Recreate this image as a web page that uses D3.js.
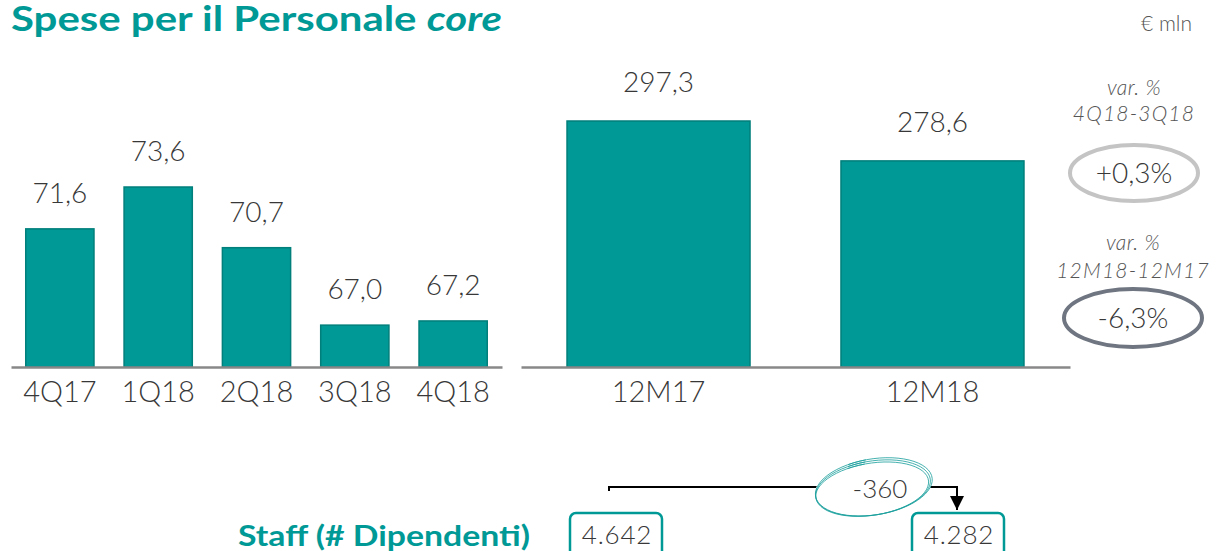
<!DOCTYPE html>
<html lang="it">
<head>
  <meta charset="UTF-8">
  <title>Spese per il Personale core</title>
  <script src="https://d3js.org/d3.v7.min.js"></script>
  <style>
    body { margin: 0; padding: 0; background: #fff; }
    svg text { font-family: Lato, "Open Sans", sans-serif; }
  </style>
</head>
<body>
  <svg id="chart" width="1220" height="551"></svg>
  <script>
    // quarterly data (€ mln)
    const quarters = ["4Q17", "1Q18", "2Q18", "3Q18", "4Q18"];
    const quarterValues = [71.6, 73.6, 70.7, 67.0, 67.2];
    // full year data (€ mln)
    const years = ["12M17", "12M18"];
    const yearValues = [297.3, 278.6];
    // variations
    const varTitles = [["var. %", "4Q18-3Q18"], ["var. %", "12M18-12M17"]];
    const varValues = ["+0,3%", "-6,3%"];
    // staff
    const staffPeriods = ["12M17", "12M18"];
    const staffValues = [4642, 4282];

    const teal = "#009996", tealDark = "#007f7b", textGray = "#383838";
    const fmt = v => v.toFixed(1).replace(".", ",");
    const fmtInt = v => d3.format(",")(v).replace(",", ".");

    const svg = d3.select("#chart");

    // title
    const title = svg.append("text")
      .attr("x", 11).attr("y", 31)
      .attr("fill", teal)
      .attr("font-family", "'Open Sans', sans-serif")
      .attr("font-size", 34).attr("font-weight", 700)
      .attr("textLength", 491).attr("lengthAdjust", "spacingAndGlyphs");
    title.append("tspan").text("Spese per il Personale ");
    title.append("tspan").attr("font-style", "italic").text("core");

    svg.append("text")
      .attr("x", 1192).attr("y", 31)
      .attr("text-anchor", "end")
      .attr("fill", "#555").attr("font-size", 21).attr("font-weight", 300)
      .text("€ mln");

    // left chart: quarters
    const baseY = 367;
    const xQ = d3.scaleBand().domain(quarters).range([11, 502]).paddingInner(0.306).paddingOuter(0.15);
    const yQ = d3.scaleLinear().domain([65, 73.6]).range([baseY, 187]);

    const gQ = svg.append("g");
    gQ.selectAll("rect").data(quarterValues).join("rect")
      .attr("x", (d, i) => xQ(quarters[i]))
      .attr("y", d => yQ(d))
      .attr("width", xQ.bandwidth())
      .attr("height", d => baseY - yQ(d))
      .attr("fill", teal).attr("stroke", tealDark).attr("stroke-width", 1.5);
    gQ.selectAll("text.val").data(quarterValues).join("text")
      .attr("class", "val")
      .attr("x", (d, i) => xQ(quarters[i]) + xQ.bandwidth() / 2)
      .attr("y", d => yQ(d) - 26)
      .attr("text-anchor", "middle")
      .attr("fill", textGray).attr("font-size", 28).attr("font-weight", 300)
      .text(fmt);

    const axQ = svg.append("g")
      .attr("transform", `translate(0,${baseY})`)
      .call(d3.axisBottom(xQ).tickSize(0).tickPadding(14));
    axQ.select(".domain").attr("stroke", "#888").attr("stroke-width", 2.5);
    axQ.selectAll(".tick text")
      .attr("font-size", 29).attr("font-weight", 300).attr("fill", textGray)
      .attr("font-family", "Lato, 'Open Sans', sans-serif");

    // right chart: full year
    const xY = d3.scaleBand().domain(years).range([521, 1070]).paddingInner(0.332).paddingOuter(0.168);
    const yY = d3.scaleLinear().domain([182, 297.3]).range([baseY, 121]);

    const gY = svg.append("g");
    gY.selectAll("rect").data(yearValues).join("rect")
      .attr("x", (d, i) => xY(years[i]))
      .attr("y", d => yY(d))
      .attr("width", xY.bandwidth())
      .attr("height", d => baseY - yY(d))
      .attr("fill", teal).attr("stroke", tealDark).attr("stroke-width", 1.5);
    gY.selectAll("text.val").data(yearValues).join("text")
      .attr("class", "val")
      .attr("x", (d, i) => xY(years[i]) + xY.bandwidth() / 2)
      .attr("y", d => yY(d) - 29)
      .attr("text-anchor", "middle")
      .attr("fill", textGray).attr("font-size", 28).attr("font-weight", 300)
      .text(fmt);

    const axY = svg.append("g")
      .attr("transform", `translate(0,${baseY})`)
      .call(d3.axisBottom(xY).tickSize(0).tickPadding(14));
    axY.select(".domain").attr("stroke", "#888").attr("stroke-width", 2.5);
    axY.selectAll(".tick text")
      .attr("font-size", 29).attr("font-weight", 300).attr("fill", textGray)
      .attr("font-family", "Lato, 'Open Sans', sans-serif");

    // variation badges
    const badges = [
      { cx: 1134, cy: 173, rx: 64, ry: 28, stroke: "#c4c4c4", titleY: [95, 121] },
      { cx: 1133, cy: 318, rx: 69, ry: 29, stroke: "#6f7681", titleY: [250, 278] }
    ];
    badges.forEach((b, i) => {
      const g = svg.append("g");
      varTitles[i].forEach((t, j) => {
        g.append("text")
          .attr("x", b.cx).attr("y", b.titleY[j])
          .attr("text-anchor", "middle")
          .attr("fill", "#555").attr("font-size", 21).attr("font-style", "italic").attr("font-weight", 300)
          .attr("letter-spacing", j ? 1.2 : 0.5)
          .text(t);
      });
      g.append("ellipse")
        .attr("cx", b.cx).attr("cy", b.cy).attr("rx", b.rx).attr("ry", b.ry)
        .attr("fill", "none").attr("stroke", b.stroke).attr("stroke-width", 4);
      g.append("text")
        .attr("x", b.cx).attr("y", b.cy + 10)
        .attr("text-anchor", "middle")
        .attr("fill", textGray).attr("font-size", 28).attr("font-weight", 300)
        .text(varValues[i]);
    });

    // staff row
    svg.append("text")
      .attr("x", 238).attr("y", 546)
      .attr("fill", teal)
      .attr("font-family", "'Open Sans', sans-serif")
      .attr("font-size", 28).attr("font-weight", 700)
      .attr("textLength", 292).attr("lengthAdjust", "spacingAndGlyphs")
      .text("Staff (# Dipendenti)");

    const xS = d3.scalePoint().domain(staffPeriods).range([616, 958]);
    const boxW = 92, boxTop = 513;
    const gS = svg.append("g");
    gS.selectAll("rect").data(staffValues).join("rect")
      .attr("x", (d, i) => xS(staffPeriods[i]) - boxW / 2)
      .attr("y", boxTop)
      .attr("width", boxW).attr("height", 50)
      .attr("rx", 6)
      .attr("fill", "#fff").attr("stroke", teal).attr("stroke-width", 2.5);
    gS.selectAll("text").data(staffValues).join("text")
      .attr("x", (d, i) => xS(staffPeriods[i]) + 1)
      .attr("y", 544)
      .attr("text-anchor", "middle")
      .attr("fill", textGray).attr("font-size", 26).attr("font-weight", 300)
      .attr("letter-spacing", 0.8)
      .text(fmtInt);

    // connector with arrow
    const x0 = xS(staffPeriods[0]) - 7, x1 = xS(staffPeriods[1]) - 1, lineY = 487;
    svg.append("defs").append("marker")
      .attr("id", "arrow").attr("viewBox", "0 0 10 10")
      .attr("refX", 10).attr("refY", 5)
      .attr("markerWidth", 7).attr("markerHeight", 7).attr("markerUnits", "strokeWidth")
      .attr("orient", "auto")
      .append("path").attr("d", "M0,0 L10,5 L0,10 Z").attr("fill", "#000");
    svg.append("path")
      .attr("d", `M${x0},${lineY + 4} V${lineY} H${x1} V${boxTop - 3}`)
      .attr("fill", "none").attr("stroke", "#000").attr("stroke-width", 2)
      .attr("marker-end", "url(#arrow)");

    // delta label with hand-drawn ring
    const delta = staffValues[1] - staffValues[0];
    const dg = svg.append("g").attr("transform", "translate(873,488) rotate(-9)");
    dg.append("ellipse").attr("rx", 60).attr("ry", 27).attr("fill", "#fff");
    [[0, 0, 58, 27], [1, -1, 59, 28], [-1, 1, 57, 26]].forEach(([dx, dy, rx, ry]) => {
      const arc = d3.path();
      const n = 60;
      for (let k = 0; k <= n; k++) {
        const t = -Math.PI * 0.62 + (k / n) * Math.PI * 2.1;
        const px = dx + rx * Math.cos(t), py = dy + ry * Math.sin(t);
        k ? arc.lineTo(px, py) : arc.moveTo(px, py);
      }
      dg.append("path").attr("d", arc.toString())
        .attr("fill", "none").attr("stroke", "#1a9f9c").attr("stroke-width", 0.9).attr("opacity", 0.85);
    });
    svg.append("text")
      .attr("x", 880).attr("y", 498)
      .attr("text-anchor", "middle")
      .attr("fill", textGray).attr("font-size", 26).attr("font-weight", 300)
      .text(String(delta));
  </script>
</body>
</html>
